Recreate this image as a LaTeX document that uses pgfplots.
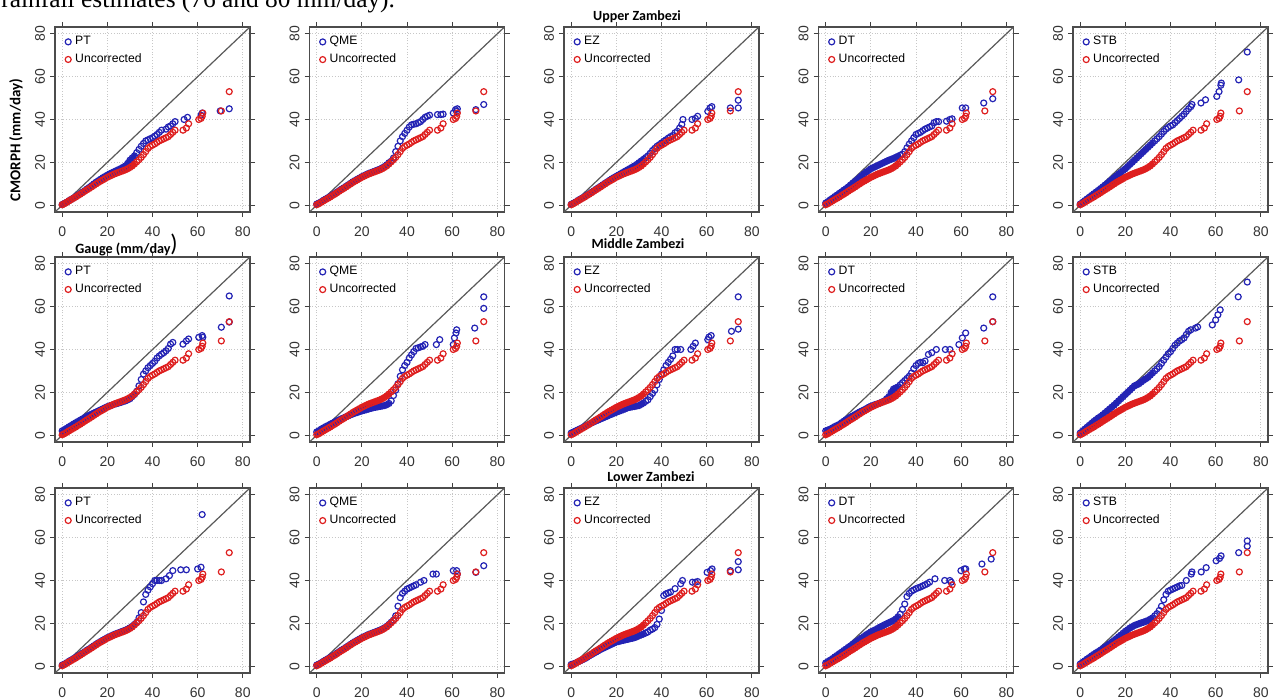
\documentclass[border=0pt]{standalone}
\usepackage{fontspec}
\setmainfont{Liberation Sans}
\newfontfamily\calib{Carlito}
\newfontfamily\tnr{Liberation Serif}
\usepackage{pgfplots}
\usepackage{pgfplotstable}
\pgfplotsset{compat=1.18}
\definecolor{cblue}{RGB}{35,35,180}
\definecolor{cred}{RGB}{222,30,30}

\pgfplotstableread{
x y
0 0.2
1 0.7
2 1.3
3 2
4 2.6
5 3.2
6 3.8
7 4.5
8 5.1
9 5.8
10 6.5
11 7.2
12 7.8
13 8.5
14 9.2
15 9.9
16 10.6
17 11.2
18 11.8
19 12.4
20 13
21 13.5
22 14
23 14.5
24 14.9
25 15.3
26 15.7
27 16.1
28 16.5
29 17
30 17.6
31 18.3
32 19.2
33 20.2
34 21.2
35 22.3
36 23.6
37 25
38 26.5
39 27.4
40 28
41 28.6
42 29.3
43 30
44 30.5
45 31
46 31.5
47 32
48 33
49 34
50 35
53.5 35
55 36
56 38
60.5 40
61.5 40.5
62 41.5
62.3 43
70.5 44
74 53
}\unc

\pgfplotsset{
 panel/.style={
  scale only axis, width=97.5pt, height=92.5pt,
  xmin=-3.2,xmax=83.2,ymin=-3.2,ymax=83.2,
  xtick={0,20,40,60,80}, ytick={0,20,40,60,80},
  tick align=outside, major tick length=2.5pt,
  tick style={line width=0.5pt, color=black!75},
  axis line style={line width=0.85pt, color=black!70},
  grid=major, grid style={densely dotted, line width=0.45pt, black!22},
  ticklabel style={font=\fontsize{7}{8}\selectfont, text=black!80},
  yticklabel style={rotate=90, anchor=south, yshift=-1pt},
  xticklabel style={anchor=north, yshift=-1.5pt},
  /pgf/number format/assume math mode=true,
  legend style={at={(0.04,0.985)}, anchor=north west, draw=none, fill=none,
    font=\fontsize{6.1}{7}\selectfont, row sep=-1pt, inner xsep=1pt, inner ysep=1pt},
  legend cell align=left,
  legend image code/.code={\draw[#1] plot coordinates {(0pt,0pt)};},
 },
 bluem/.style={only marks, mark=o, mark size=1.5pt, color=cblue, mark options={line width=0.6pt}},
 redm/.style={only marks, mark=o, mark size=1.5pt, color=cred, mark options={line width=0.6pt}},
 band/.style={forget plot, no marks, line width=2.3pt, line join=round, line cap=round, restrict x to domain=-1:32.5},
 diag/.style={forget plot, color=black!65, line width=0.6pt},
}

\newcommand\panel[4]{%
\begin{axis}[panel, at={(#1pt,#2pt)}]
\addplot[diag] coordinates {(-10,-10) (95,95)};
\addplot[band, cblue] coordinates {#4};
\addplot[bluem] coordinates {#4};
\addplot[band, cred] table {\unc};
\addplot[redm] table {\unc};
\legend{#3,Uncorrected}
\end{axis}}

\begin{document}
\begin{tikzpicture}
\useasboundingbox (0,0) rectangle (638.5pt,349.5pt);
% Row 1 (Upper)
\panel{27.5}{243.5}{PT}{(0,0.3)(1,0.8)(2,1.4)(3,2.1)(4,2.7)(5,3.3)(6,4)(7,4.7)(8,5.4)(9,6.1)(10,6.8)(11,7.6)(12,8.3)(13,9.1)(14,9.9)(15,10.7)(16,11.4)(17,12.1)(18,12.8)(19,13.4)(20,14)(21,14.6)(22,15.1)(23,15.6)(24,16.1)(25,16.6)(26,17.1)(27,17.7)(28,18.3)(29,19.5)(30,21)(31,22)(32,23)(33,24.5)(34,26)(35,27.5)(36,28.8)(37,30)(38,30.5)(39,31)(40,31.5)(41,32.2)(42,33)(43,34)(44,35)(46,35.5)(47,36.5)(48,37)(49,38)(50,39)(54,40)(55.5,41)(61.5,42)(62,43)(70,44)(74,45)}
\panel{154.75}{243.5}{QME}{(0,0.5)(1,1)(2,1.6)(3,2.3)(4,2.9)(5,3.5)(6,4.1)(7,4.8)(8,5.4)(9,6.1)(10,6.8)(11,7.5)(12,8.1)(13,8.8)(14,9.5)(15,10.2)(16,10.9)(17,11.5)(18,12.1)(19,12.7)(20,13.3)(21,13.8)(22,14.3)(23,14.8)(24,15.2)(25,15.6)(26,16)(27,16.4)(28,16.8)(29,17.4)(30,18)(31,18.8)(32,19.8)(33,20.5)(34,22)(35,25)(36,27.5)(37,30)(38,32)(39,33.5)(40,35)(41,36.5)(42,37.5)(43,37.8)(44,38)(45,38.5)(46,39)(47,40)(48,41)(49,41.5)(50,42)(53.5,42.3)(55,42.3)(56,42.5)(60.5,43)(61.5,44.6)(62,43.8)(62.3,45)(70.5,44.6)(74,47)}
\panel{282}{243.5}{EZ}{(0,0.4)(1,0.9)(2,1.5)(3,2.2)(4,2.8)(5,3.4)(6,4)(7,4.7)(8,5.3)(9,6)(10,6.7)(11,7.4)(12,8.1)(13,8.8)(14,9.5)(15,10.2)(16,10.9)(17,11.6)(18,12.3)(19,12.9)(20,13.5)(21,14.1)(22,14.7)(23,15.3)(24,15.9)(25,16.5)(26,17.1)(27,17.7)(28,18.3)(29,19)(30,19.8)(31,20.6)(32,21.4)(33,22.2)(34,23)(35,24.2)(36,25.5)(37,26.5)(38,27.5)(39,28.2)(40,29)(41,29.8)(42,30.5)(43,31.3)(44,32)(45,32.5)(46,33.8)(47,34.5)(48,36)(49,37.7)(49.5,40)(53.5,40)(55,40.5)(56,41.5)(60.5,43.8)(61.5,45.4)(62.3,46)(70.5,45.4)(74,49)(74,45.4)}
\panel{409.25}{243.5}{DT}{(0,1)(1,1.7)(2,2.5)(3,3.2)(4,4)(5,4.7)(6,5.5)(7,6.2)(8,7)(9,7.7)(10,8.5)(11,9.4)(12,10.3)(13,11.1)(14,12)(15,12.9)(16,13.8)(17,14.6)(18,15.5)(19,16.2)(20,17)(21,17.5)(22,18)(23,18.5)(24,19)(25,19.5)(26,20)(27,20.5)(28,21)(29,21.4)(30,21.8)(31,22.3)(32,22.8)(33,23.3)(34,23.8)(35,25)(36,26.8)(37,28.5)(38,30)(39,31.5)(40,33)(41,33.5)(42,34)(43,34.8)(44,35.5)(45,36)(46,36.5)(47,37)(48,38.5)(49,39)(50,39)(53.5,39.2)(55,40)(56,40.3)(60.5,45.4)(62,45.4)(70,47.7)(74,49.7)}
\panel{536.5}{243.5}{STB}{(0,0.5)(1,1.3)(2,2.1)(3,2.9)(4,3.7)(5,4.5)(6,5.3)(7,6.1)(8,6.9)(9,7.7)(10,8.5)(11,9.4)(12,10.2)(13,11.1)(14,11.9)(15,12.8)(16,13.6)(17,14.5)(18,15.3)(19,16.2)(20,17)(21,18)(22,19)(23,20)(24,21)(25,22)(26,23)(27,24)(28,25)(29,26)(30,27)(31,28)(32,29)(33,30)(34,31)(35,32)(36,33.2)(37,34.4)(38,35.5)(39,36.3)(40,37)(41,37.5)(42,38.5)(43,39.5)(44,40.5)(45,41.5)(46,42.5)(47,43.8)(48,45)(49,46)(49.5,47)(53.5,47.7)(55.5,49.2)(60.5,50.8)(61.5,53)(62.3,56)(62.5,57)(70.2,58.5)(74,71.5)}
% Row 2 (Middle)
\panel{27.5}{128.5}{PT}{(0,2)(1,2.6)(2,3.2)(3,3.9)(4,4.5)(5,5.2)(6,5.8)(7,6.4)(8,7)(9,7.6)(10,8.2)(11,8.8)(12,9.3)(13,9.8)(14,10.3)(15,10.8)(16,11.3)(17,11.8)(18,12.3)(19,12.8)(20,13.3)(21,13.7)(22,14)(23,14.4)(24,14.7)(25,15)(26,15.3)(27,15.7)(28,16)(29,16.5)(30,17)(31,18)(32,19)(33,20.5)(34,23)(35,26)(36,28.5)(37,30)(38,31.5)(39,32.5)(40,33.5)(41,34.5)(42,36)(43,37)(44,37.8)(45,38.5)(46,39.4)(47,40.5)(48,42.5)(49,43.3)(53.5,42.5)(55,44)(56,44.9)(60.5,45.7)(62,46.5)(62.3,45.7)(70.5,50.4)(74,52.8)(74,65)}
\panel{154.75}{128.5}{QME}{(0,1.5)(1,2.1)(2,2.8)(3,3.4)(4,4)(5,4.5)(6,5.1)(7,5.6)(8,6.2)(9,6.7)(10,7.2)(11,7.7)(12,8.1)(13,8.6)(14,9)(15,9.5)(16,9.9)(17,10.3)(18,10.6)(19,11)(20,11.3)(21,11.6)(22,11.9)(23,12.2)(24,12.5)(25,12.8)(26,13)(27,13.2)(28,13.4)(29,13.6)(30,13.8)(31,14.2)(32,14.8)(33,16)(34,18.5)(35,21)(36,24)(37,27.5)(38,30.5)(39,32.5)(40,34)(41,36)(42,37.5)(43,39)(44,40.5)(45,40.8)(46,41.2)(47,41.5)(48,42.3)(53,42.3)(54.5,44.6)(60.5,42.3)(61,45.4)(61.7,47.7)(62,49.2)(70,50)(74,59.2)(74,64.6)}
\panel{282}{128.5}{EZ}{(0,1)(1,1.5)(2,2)(3,2.5)(4,3)(5,3.5)(6,4.1)(7,4.6)(8,5.1)(9,5.7)(10,6.2)(11,6.7)(12,7.1)(13,7.6)(14,8)(15,8.5)(16,8.9)(17,9.4)(18,9.8)(19,10.3)(20,10.7)(21,11.1)(22,11.5)(23,11.9)(24,12.3)(25,12.8)(26,13)(27,13.2)(28,13.4)(29,13.6)(30,13.8)(31,14.4)(32,15)(33,15.8)(34,16.5)(35,18)(36,19.5)(37,21)(38,23.5)(39,26)(40,28.5)(41,30.5)(42,32.5)(43,34)(44,35.4)(45,37)(46,40)(47,40)(48.5,40)(53,40)(54,41.5)(55,43)(60.5,44.6)(61,45.8)(62,46.5)(71,48.5)(74,49.5)(74,64.6)}
\panel{409.25}{128.5}{DT}{(0,2)(1,2.4)(2,2.8)(3,3.4)(4,4)(5,4.5)(6,5)(7,5.8)(8,6.5)(9,7.2)(10,7.8)(11,8.4)(12,9)(13,9.6)(14,10.2)(15,10.8)(16,11.3)(17,11.8)(18,12.4)(19,13)(20,13.5)(21,13.9)(22,14.3)(23,14.6)(24,15)(25,15.5)(26,16)(27,17)(28,18)(29,20)(30,21.5)(31,22)(32,22.5)(33,23.5)(34,24.5)(35,25.5)(36,26.5)(37,27.5)(38,29)(39,31)(40,32.5)(41,33.5)(42,34)(43,33.8)(44,34.6)(45.5,37.7)(47,38.5)(49,40)(53,40)(55,40)(59,42.3)(60.5,45.4)(62,47.7)(70,50)(74,53)(74,64.6)}
\panel{536.5}{128.5}{STB}{(0,1)(1,1.9)(2,2.8)(3,3.7)(4,4.6)(5,5.5)(6,6.4)(7,7.2)(8,8)(9,8.7)(10,9.5)(11,10.4)(12,11.3)(13,12.2)(14,13.1)(15,14)(16,15)(17,16)(18,17)(19,18)(20,19)(21,20)(22,21)(23,22)(24,23)(25,23.5)(26,24)(27,24.8)(28,25.6)(29,26.3)(30,27)(31,28)(32,29)(33,30)(34,31)(35,32)(36,33.5)(37,35)(38,36.5)(39,38)(40,39)(41,40.5)(42,42)(43,43)(44,44)(45,44.6)(46,45.4)(47,47)(48,48.5)(49,49.2)(51,50)(52,50.5)(58.5,51.5)(60,53.8)(61,56.2)(62,58.5)(70,64.6)(74,71.5)}
% Row 3 (Lower)
\panel{27.5}{13}{PT}{(0,0.5)(1,1)(2,1.6)(3,2.3)(4,2.9)(5,3.5)(6,4.1)(7,4.8)(8,5.4)(9,6.1)(10,6.8)(11,7.5)(12,8.1)(13,8.8)(14,9.5)(15,10.2)(16,10.9)(17,11.5)(18,12.1)(19,12.7)(20,13.3)(21,13.8)(22,14.3)(23,14.8)(24,15.2)(25,15.6)(26,16)(27,16.4)(28,16.8)(29,17.3)(30,17.9)(31,18.6)(32,19.5)(33,20.5)(34,22.5)(35,25)(36,30)(37,33.5)(38,35.5)(39,37)(40,38.5)(41,40)(42,40)(43,40)(44,40)(46,40.8)(47.5,42.3)(49,44.6)(52.5,45)(55,45)(60,45.4)(61.5,46.2)(62,70.8)}
\panel{154.75}{13}{QME}{(0,0.5)(1,1)(2,1.6)(3,2.3)(4,2.9)(5,3.5)(6,4.1)(7,4.8)(8,5.4)(9,6.1)(10,6.8)(11,7.5)(12,8.1)(13,8.8)(14,9.5)(15,10.2)(16,10.9)(17,11.5)(18,12.1)(19,12.7)(20,13.3)(21,13.8)(22,14.3)(23,14.8)(24,15.2)(25,15.6)(26,16)(27,16.4)(28,16.8)(29,17.3)(30,17.9)(31,18.6)(32,19.5)(33,20.5)(34,21.5)(35,23.5)(36,28)(37,32)(38,34)(39,35)(40,36)(41,36.5)(42,37)(43,37.5)(44,38)(46,39.2)(47.5,40)(51.5,43)(53,43)(60.5,44.6)(62,44.6)(62.3,43)(70.5,43.8)(74,46.9)}
\panel{282}{13}{EZ}{(0,0.8)(1,1.1)(2,1.5)(3,2)(4,2.5)(5,3)(6,3.5)(7,4.1)(8,4.8)(9,5.4)(10,6)(11,6.6)(12,7.2)(13,7.8)(14,8.3)(15,8.8)(16,9.3)(17,9.8)(18,10.3)(19,10.8)(20,11.3)(21,11.5)(22,11.8)(23,12)(24,12.3)(25,12.5)(26,12.8)(27,13)(28,13.3)(29,13.7)(30,14.2)(31,14.6)(32,15)(33,15.5)(34,16)(35,16.8)(36,17.3)(37,18)(38,19.5)(39,22)(40,26)(41,33)(42,33.8)(43,34.2)(44,34.6)(46,36.2)(48.5,38.5)(49.3,40)(53.7,39.2)(55,39.2)(56,39.5)(60.2,43.8)(61.7,44.6)(62.4,45.4)(70.5,44.6)(74,48.8)(74,45)}
\panel{409.25}{13}{DT}{(0,1.5)(1,2.2)(2,2.8)(3,3.5)(4,4.3)(5,5)(6,5.8)(7,6.5)(8,7.3)(9,8)(10,8.8)(11,9.5)(12,10.3)(13,11)(14,11.8)(15,12.5)(16,13.2)(17,13.9)(18,14.7)(19,15.3)(20,16)(21,16.5)(22,17)(23,17.6)(24,18.2)(25,18.7)(26,19.3)(27,19.8)(28,20.3)(29,20.8)(30,21.3)(31,22)(32,23)(33,24.3)(34,26.5)(35,29)(36,32.5)(37,34)(38,35)(39,35.6)(40,36.2)(41,36.6)(42,37)(43,37.5)(44,38)(45,38.5)(46,39.2)(48.4,40.8)(52.7,40)(55,40)(55.6,39.2)(59.9,44.6)(61.4,45.4)(62,45.4)(69.2,47.7)(73.3,50)}
\panel{536.5}{13}{STB}{(0,1)(1,1.8)(2,2.5)(3,3.3)(4,4)(5,4.8)(6,5.5)(7,6.2)(8,6.8)(9,7.5)(10,8.2)(11,9)(12,9.7)(13,10.5)(14,11.2)(15,12)(16,12.8)(17,13.7)(18,14.5)(19,15.4)(20,16.3)(21,17)(22,17.8)(23,18.4)(24,19)(25,19.4)(26,19.8)(27,20.2)(28,20.5)(29,20.9)(30,21.3)(31,21.9)(32,22.5)(33,23.5)(34,24.5)(35,26)(36,28)(37,31)(38,33.5)(39,35)(40,35.5)(41,36)(42,36.5)(43,37)(44,37.5)(45,37.7)(47,40)(49.2,43)(49.5,44)(53.6,44)(55.8,46)(60.2,49.2)(61.7,50.3)(62.4,51.5)(70.2,53)(74,56)(74,58.5)}
% Titles and labels
\node[font=\calib\bfseries\fontsize{7}{8}\selectfont] at (318.5pt,341pt) {Upper Zambezi};
\node[font=\calib\bfseries\fontsize{7}{8}\selectfont] at (319pt,227.5pt) {Middle Zambezi};
\node[font=\calib\bfseries\fontsize{7}{8}\selectfont] at (325.5pt,111pt) {Lower Zambezi};
\node[font=\calib\bfseries\fontsize{7.5}{8}\selectfont, rotate=90] at (8pt,279.5pt) {CMORPH (mm/day)};
\node[font=\calib\bfseries\fontsize{7.1}{8}\selectfont] at (61.5pt,225pt) {Gauge (mm/day};
\node[font=\calib\fontsize{12}{12}\selectfont] at (87pt,227.5pt) {)};
\node[font=\tnr\fontsize{12.7}{14}\selectfont, anchor=base west, inner sep=0pt] at (0.5pt,345.5pt) {rainfall estimates (76 and 80 mm/day).};
\end{tikzpicture}
\end{document}
